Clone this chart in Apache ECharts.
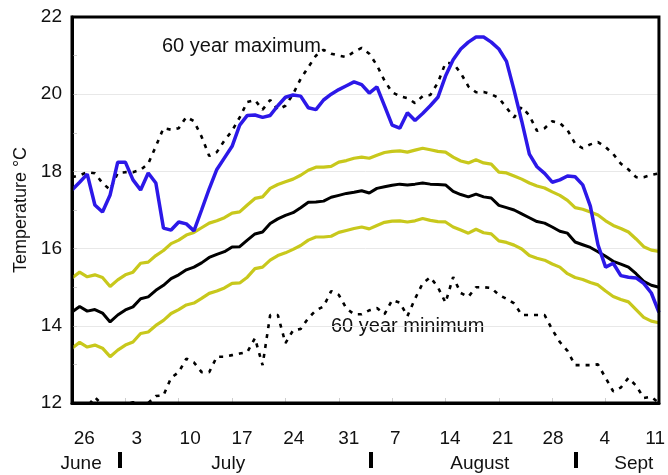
<!DOCTYPE html>
<html>
<head>
<meta charset="utf-8">
<script src="https://cdn.jsdelivr.net/npm/echarts@6/dist/echarts.min.js"></script>
<style>html,body{margin:0;padding:0;background:#fff}#c{width:668px;height:475px}</style>
</head>
<body>
<div id="c"></div>
<script>
// Daily values, day 0 .. day 77
const thisYear = [17.52,17.72,17.93,17.13,16.95,17.39,18.24,18.24,17.78,17.52,17.96,17.70,16.53,16.48,16.69,16.64,16.46,
  17.0,17.55,18.05,18.35,18.65,19.2,19.45,19.46,19.4,19.45,19.7,19.92,19.98,19.95,19.65,19.6,19.85,20.0,20.12,20.22,20.32,
  20.25,20.03,20.19,19.7,19.2,19.12,19.52,19.32,19.5,19.7,19.92,20.47,20.89,21.17,21.35,21.48,21.48,21.35,21.17,20.85,
  20.1,19.3,18.45,18.12,17.95,17.72,17.78,17.88,17.86,17.65,17.1,16.1,15.52,15.62,15.3,15.26,15.24,15.1,14.85,14.35];
const mean = [14.36,14.5,14.38,14.42,14.33,14.1,14.28,14.41,14.49,14.7,14.75,14.92,15.05,15.22,15.32,15.45,15.52,15.63,15.77,15.85,
  15.92,16.04,16.05,16.22,16.38,16.43,16.65,16.77,16.86,16.93,17.06,17.2,17.21,17.23,17.33,17.38,17.43,17.46,17.5,17.44,
  17.56,17.6,17.64,17.67,17.65,17.67,17.7,17.67,17.66,17.65,17.48,17.4,17.34,17.41,17.34,17.31,17.12,17.06,17.0,16.9,
  16.8,16.7,16.66,16.56,16.45,16.4,16.17,16.1,16.03,15.92,15.8,15.67,15.6,15.52,15.35,15.15,15.05,15.0];
const upperBand = [15.24,15.39,15.27,15.32,15.25,15.02,15.19,15.32,15.39,15.62,15.65,15.82,15.95,16.13,16.22,16.35,16.42,16.54,16.66,16.72,
  16.8,16.92,16.95,17.13,17.3,17.34,17.56,17.66,17.73,17.8,17.9,18.03,18.11,18.11,18.13,18.24,18.28,18.34,18.37,18.34,
  18.42,18.49,18.52,18.53,18.5,18.55,18.6,18.56,18.52,18.5,18.37,18.27,18.22,18.3,18.22,18.19,17.98,17.96,17.88,17.8,
  17.7,17.62,17.57,17.47,17.38,17.25,17.06,17.02,16.95,16.87,16.72,16.6,16.52,16.43,16.25,16.05,15.96,15.93];
const lowerBand = [13.42,13.57,13.45,13.5,13.42,13.2,13.37,13.5,13.58,13.8,13.84,14.01,14.14,14.32,14.42,14.54,14.59,14.71,14.84,14.9,
  14.98,15.1,15.11,15.26,15.48,15.52,15.7,15.82,15.89,15.98,16.08,16.22,16.3,16.3,16.32,16.42,16.47,16.52,16.56,16.51,
  16.6,16.68,16.71,16.72,16.69,16.72,16.78,16.73,16.7,16.69,16.56,16.48,16.4,16.5,16.41,16.38,16.2,16.16,16.09,15.99,
  15.82,15.75,15.7,15.6,15.52,15.35,15.25,15.2,15.12,15.06,14.9,14.76,14.68,14.62,14.42,14.22,14.12,14.08];
const max60 = [17.85,17.9,17.98,17.95,17.7,17.52,17.96,17.98,17.98,18.04,18.2,18.65,19.12,19.08,19.12,19.41,19.3,18.9,18.4,18.5,
  18.8,19.05,19.4,19.8,19.85,19.6,19.85,19.6,19.7,20.0,20.4,20.7,21.0,21.15,21.05,21.0,20.96,21.1,21.2,21.05,
  20.75,20.35,20.05,19.95,19.9,19.77,19.95,19.98,20.3,20.81,20.8,20.55,20.2,20.05,20.06,20.0,19.9,19.65,19.4,19.67,
  19.45,19.05,19.12,19.3,19.25,19.07,18.72,18.6,18.7,18.76,18.63,18.45,18.2,18.05,17.85,17.85,17.91,17.95];
const min60 = [11.95,12.0,11.9,12.15,11.95,12.02,11.9,11.95,12.02,11.9,12.0,12.18,12.2,12.65,12.8,13.15,13.05,12.8,12.8,13.2,
  13.2,13.24,13.28,13.32,13.68,12.98,14.28,14.28,13.55,13.88,13.92,14.2,14.4,14.5,14.9,14.8,14.45,14.3,14.3,14.4,
  14.46,14.3,14.67,14.6,14.25,14.7,15.1,15.26,15.0,14.6,15.26,14.85,14.75,15.0,15.0,14.98,14.8,14.7,14.58,14.28,
  14.28,14.28,14.28,13.9,13.58,13.35,12.98,12.98,12.98,13.0,12.65,12.3,12.4,12.65,12.45,12.13,12.16,12.0];

// Axis labels
const dayLabels = ['26','3','10','17','24','31','7','14','21','28','4','11'];
const dayLabelAt = [1.6,8.5,15.5,22.3,29.1,36.3,42.4,49.6,56.5,63.1,69.9,76.5];
const weekTicks = [0,7,14,21,28,35,42,49,56,63,70,77];
const monthNames = ['June','July','August','Sept'];
const monthLabelAt = [1.2,20.5,53.5,73.7];
const monthBreaks = [6.2,39.2,66.1];
const X_MIN = 0, X_MAX = 77, Y_MIN = 12, Y_MAX = 22;

const FONT = '"Liberation Sans", Arial, sans-serif';
const pts = arr => arr.map((v, i) => [i, v]);
// plot frame, drawn along the axis extents
const frame = [[X_MIN, Y_MIN], [X_MIN, Y_MAX], [X_MAX, Y_MAX], [X_MAX, Y_MIN], [X_MIN, Y_MIN]];

const chart = echarts.init(document.getElementById('c'));
chart.setOption({
  animation: false,
  grid: {left: 72, right: 9, top: 17, bottom: 72},
  xAxis: [{
    type: 'value', min: X_MIN, max: X_MAX, position: 'bottom',
    axisLine: {show: true, lineStyle: {color: '#000', width: 3}},
    axisTick: {show: true, inside: true, length: 5, customValues: weekTicks, lineStyle: {color: '#cfcfcf', width: 1}},
    axisLabel: {show: true, customValues: dayLabelAt, margin: 26, fontSize: 19, color: '#111', fontFamily: FONT,
      formatter: v => { const k = dayLabelAt.indexOf(v); return k >= 0 ? dayLabels[k] : ''; }},
    splitLine: {show: false}
  }, {
    type: 'value', min: X_MIN, max: X_MAX, position: 'bottom', offset: 49,
    axisLine: {show: false},
    axisTick: {show: true, inside: false, length: 16, customValues: monthBreaks, lineStyle: {color: '#000', width: 4}},
    axisLabel: {show: true, customValues: monthLabelAt, margin: 2, fontSize: 19, color: '#111', fontFamily: FONT,
      formatter: v => { const k = monthLabelAt.indexOf(v); return k >= 0 ? monthNames[k] : ''; }},
    splitLine: {show: false}
  }],
  yAxis: [{
    type: 'value', min: Y_MIN, max: Y_MAX, interval: 2, position: 'left',
    name: 'Temperature \u00B0C', nameLocation: 'middle', nameGap: 41, nameRotate: 90,
    nameTextStyle: {fontSize: 18, color: '#111', fontFamily: FONT},
    axisLine: {show: true, lineStyle: {color: '#000', width: 3}},
    axisTick: {show: true, inside: true, length: 5, lineStyle: {color: '#cfcfcf'}},
    minorTick: {show: true, splitNumber: 2, length: 5, lineStyle: {color: '#cfcfcf'}},
    axisLabel: {fontSize: 19, color: '#111', margin: 10, fontFamily: FONT},
    splitLine: {show: true, lineStyle: {color: '#e8e8e8', width: 1}}
  }],
  graphic: [
    {type: 'text', left: 162, top: 36, style: {text: '60 year maximum', fontSize: 20, fill: '#111', fontFamily: FONT}},
    {type: 'text', left: 331, top: 316, style: {text: '60 year minimum', fontSize: 20, fill: '#111', fontFamily: FONT}}
  ],
  series: [
    {type: 'line', data: pts(max60), showSymbol: false, lineStyle: {color: '#000', width: 2.6, type: [4, 6], cap: 'butt'}, z: 2},
    {type: 'line', data: pts(min60), showSymbol: false, lineStyle: {color: '#000', width: 2.6, type: [4, 6], cap: 'butt'}, z: 2},
    {type: 'line', data: pts(upperBand), showSymbol: false, lineStyle: {color: '#c8c81c', width: 3.2}, z: 3},
    {type: 'line', data: pts(lowerBand), showSymbol: false, lineStyle: {color: '#c8c81c', width: 3.2}, z: 3},
    {type: 'line', data: pts(mean), showSymbol: false, lineStyle: {color: '#000', width: 3}, z: 4},
    {type: 'line', data: pts(thisYear), showSymbol: false, lineStyle: {color: '#2c18e8', width: 3.5}, z: 5},
    {type: 'line', data: frame, showSymbol: false, clip: false, silent: true, z: 6,
      lineStyle: {color: '#000', width: 3, type: 'solid', join: 'miter', cap: 'square'}}
  ]
});
</script>
</body>
</html>
